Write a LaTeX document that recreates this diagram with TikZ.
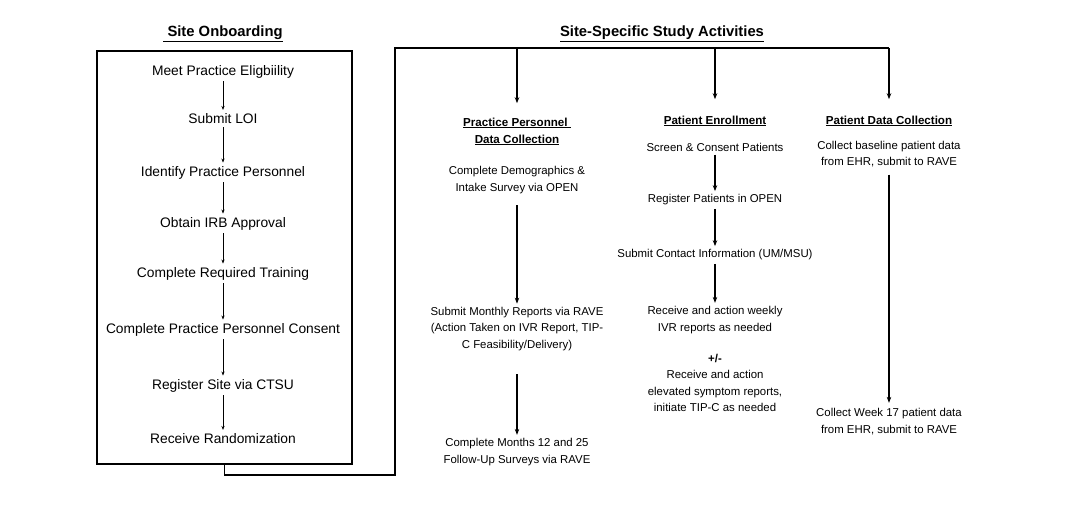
\documentclass[tikz,border=0pt]{standalone}
\usepackage{fontspec}
\setmainfont{Liberation Sans}
\usetikzlibrary{arrows.meta}
\tikzset{
  head/.style={font=\fontsize{14.8}{18}\selectfont\bfseries},
  onb/.style={font=\fontsize{13.8}{16}\selectfont},
  act/.style={font=\fontsize{11.4}{16.5}\selectfont,align=center},
  sub/.style={font=\fontsize{11.6}{17}\selectfont\bfseries,align=center},
  thinarr/.style={-{Stealth[length=4pt,width=3.2pt]},line width=0.9pt},
  arr/.style={-{Stealth[length=6pt,width=4.5pt]},line width=1.3pt},
}
\begin{document}
\begin{tikzpicture}[x=1pt,y=-1pt]
\useasboundingbox (0,0) rectangle (1072,519);

% titles
\node[head] (ttlA) at (223,34) {\underline{\ Site Onboarding}};
\node[head] (ttlB) at (662,34) {\underline{Site-Specific Study Activities}};

% site onboarding box
\node[draw,line width=1.6pt,minimum width=255pt,minimum height=413pt,inner sep=0pt] (box) at (224.5,257.5) {};
\foreach \n/\y/\t in {o1/71.5/Meet Practice Eligbiility,o2/118.5/Submit LOI,o3/172.5/Identify Practice Personnel,o4/223.5/Obtain IRB Approval,o5/273.5/Complete Required Training,o6/329.5/Complete Practice Personnel Consent,o7/385.5/Register Site via CTSU,o8/438.5/Receive Randomization}
    \node[onb] (\n) at (223,\y) {\t};
\foreach \a/\b in {o1/o2,o2/o3,o3/o4,o4/o5,o5/o6,o6/o7,o7/o8}
    \draw[thinarr] (\a) -- (\b);

% link to study activities
\coordinate (c1) at (517,48);
\coordinate (c2) at (715,48);
\coordinate (c3) at (889,48);
\draw[line width=1.6pt] (box.south) -- ++(0,10) -| (395,48) -- (c3);

% practice personnel data collection
\node[sub] (pp) at (517,131.5) {\underline{Practice Personnel\ }\\\underline{Data Collection}};
\node[act] (p1) at (517,180) {Complete Demographics \&\\Intake Survey via OPEN};
\node[act] (p2) at (517,329) {Submit Monthly Reports via RAVE\\(Action Taken on IVR Report, TIP-\\C Feasibility/Delivery)};
\node[act] (p3) at (517,452) {Complete Months 12 and 25\\Follow-Up Surveys via RAVE};

% patient enrollment
\node[sub] (pe) at (715,121) {\underline{Patient Enrollment}};
\node[act] (e1) at (715,147) {Screen \& Consent Patients};
\node[act] (e2) at (715,200) {Register Patients in OPEN};
\node[act] (e3) at (715,255) {Submit Contact Information (UM/MSU)};
\node[act] (e4) at (715,320) {Receive and action weekly\\IVR reports as needed};
\node[act] (e5) at (715,383) {\textbf{+/-}\\Receive and action\\elevated symptom reports,\\initiate TIP-C as needed};

% patient data collection
\node[sub] (pd) at (889,121) {\underline{Patient Data Collection}};
\node[act] (d1) at (889,154) {Collect baseline patient data\\from EHR, submit to RAVE};
\node[act] (d2) at (889,421.5) {Collect Week 17 patient data\\from EHR, submit to RAVE};

\draw[arr,shorten >=11pt] (c1) -- (pp.north);
\draw[arr,shorten >=13pt] (c2) -- (pe.north);
\draw[arr,shorten >=13pt] (c3) -- (pd.north);
\draw[arr,shorten <=8pt] (p1) -- (p2);
\draw[arr,shorten <=20pt] (p2) -- (p3);
\draw[arr] (e1) -- (e2);
\draw[arr] (e2) -- (e3);
\draw[arr] (e3) -- (e4);
\draw[arr,shorten <=4pt,shorten >=2pt] (d1) -- (d2);
\end{tikzpicture}
\end{document}
